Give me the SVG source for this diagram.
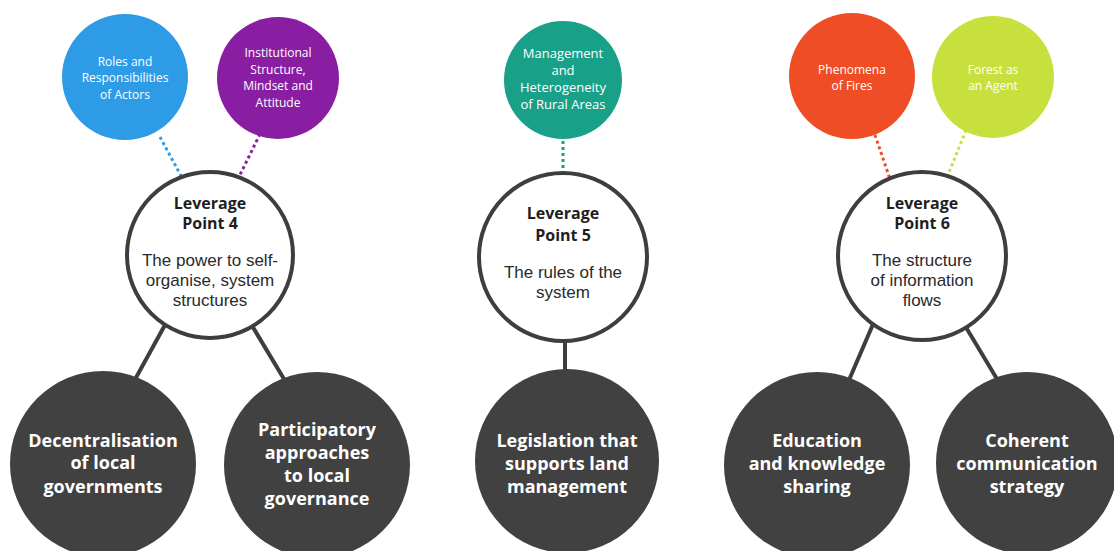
<svg xmlns="http://www.w3.org/2000/svg" width="1114" height="551" viewBox="0 0 1114 551">
<style>
.bg{fill:#ffffff}
.lp{fill:#ffffff;stroke:#3e3e3e;stroke-width:4}
.dk{fill:#414141}
.conn{stroke:#3e3e3e;stroke-width:4;fill:none}
.dot{stroke-width:3;stroke-dasharray:3 3;fill:none}
.t{font-family:"Open Sans","Liberation Sans",sans-serif;text-anchor:middle}
.top{fill:#ffffff;font-size:12px}
.tl{font-size:13px}
.lph{fill:#1e1e1e;font-size:16px;font-weight:bold}
.lpb{fill:#2a2a2a;font-size:17px;font-family:"Liberation Sans",Arial,sans-serif}
.dkt{fill:#ffffff;font-size:18px;font-weight:bold}
</style>
<rect class="bg" width="1114" height="551"/>
<g id="connectors">
<line class="dot" x1="160" y1="137" x2="186" y2="185" stroke="#2e9be6"/>
<line class="dot" x1="260" y1="134" x2="235" y2="185" stroke="#8a1ea3"/>
<line class="dot" x1="563" y1="135" x2="563" y2="185" stroke="#18a088"/>
<line class="dot" x1="875" y1="135" x2="892" y2="185" stroke="#e9502a"/>
<line class="dot" x1="966" y1="130" x2="944" y2="185" stroke="#c8e03e"/>
<line class="conn" x1="127" y1="394" x2="182" y2="294"/>
<line class="conn" x1="293" y1="394" x2="233" y2="294"/>
<line class="conn" x1="565" y1="320" x2="565" y2="390"/>
<line class="conn" x1="843" y1="394" x2="886" y2="294"/>
<line class="conn" x1="1006" y1="394" x2="946" y2="294"/>
</g>
<g id="roles">
<circle cx="125" cy="77" r="63" fill="#2e9be6"/>
<text class="t top" x="125" y="65.5">Roles and</text>
<text class="t top" x="125" y="82">Responsibilities</text>
<text class="t top" x="125" y="98.5">of Actors</text>
</g>
<g id="institutional">
<circle cx="278" cy="78" r="61" fill="#8a1ea3"/>
<text class="t top" x="278" y="57">Institutional</text>
<text class="t top" x="278" y="73.5">Structure,</text>
<text class="t top" x="278" y="90">Mindset and</text>
<text class="t top" x="278" y="106.5">Attitude</text>
</g>
<g id="management">
<circle cx="563" cy="80" r="59" fill="#18a088"/>
<text class="t top tl" x="563" y="57.5">Management</text>
<text class="t top tl" x="563" y="74.5">and</text>
<text class="t top tl" x="563" y="91.5">Heterogeneity</text>
<text class="t top tl" x="563" y="108.5">of Rural Areas</text>
</g>
<g id="phenomena">
<circle cx="852" cy="76" r="63" fill="#ee4d25"/>
<text class="t top" x="852" y="73.5">Phenomena</text>
<text class="t top" x="852" y="90">of Fires</text>
</g>
<g id="forest">
<circle cx="993" cy="77" r="61" fill="#c8e03e"/>
<text class="t top" x="993" y="73.5">Forest as</text>
<text class="t top" x="993" y="90">an Agent</text>
</g>
<g id="lp4">
<circle class="lp" cx="210" cy="255" r="83"/>
<text class="t lph" x="210" y="209">Leverage</text>
<text class="t lph" x="210" y="229">Point 4</text>
<text class="t lpb" x="210" y="266">The power to self-</text>
<text class="t lpb" x="210" y="286">organise, system</text>
<text class="t lpb" x="210" y="306">structures</text>
</g>
<g id="lp5">
<circle class="lp" cx="563" cy="257" r="84"/>
<text class="t lph" x="563" y="219">Leverage</text>
<text class="t lph" x="563" y="241">Point 5</text>
<text class="t lpb" x="563" y="278">The rules of the</text>
<text class="t lpb" x="563" y="298">system</text>
</g>
<g id="lp6">
<circle class="lp" cx="922" cy="256" r="84"/>
<text class="t lph" x="922" y="209">Leverage</text>
<text class="t lph" x="922" y="229">Point 6</text>
<text class="t lpb" x="922" y="266">The structure</text>
<text class="t lpb" x="922" y="286">of information</text>
<text class="t lpb" x="922" y="306">flows</text>
</g>
<g id="decentralisation">
<circle class="dk" cx="103" cy="464" r="93"/>
<text class="t dkt" x="103" y="446.5">Decentralisation</text>
<text class="t dkt" x="103" y="469">of local</text>
<text class="t dkt" x="103" y="492.5">governments</text>
</g>
<g id="participatory">
<circle class="dk" cx="317" cy="465" r="93"/>
<text class="t dkt" x="317" y="436">Participatory</text>
<text class="t dkt" x="317" y="458.5">approaches</text>
<text class="t dkt" x="317" y="481.5">to local</text>
<text class="t dkt" x="317" y="504.5">governance</text>
</g>
<g id="legislation">
<circle class="dk" cx="567" cy="461" r="92"/>
<text class="t dkt" x="567" y="446.5">Legislation that</text>
<text class="t dkt" x="567" y="470">supports land</text>
<text class="t dkt" x="567" y="493">management</text>
</g>
<g id="education">
<circle class="dk" cx="817" cy="465" r="93"/>
<text class="t dkt" x="817" y="446.5">Education</text>
<text class="t dkt" x="817" y="469.5">and knowledge</text>
<text class="t dkt" x="817" y="492.5">sharing</text>
</g>
<g id="coherent">
<circle class="dk" cx="1027" cy="463" r="91"/>
<text class="t dkt" x="1027" y="446.5">Coherent</text>
<text class="t dkt" x="1027" y="469.5">communication</text>
<text class="t dkt" x="1027" y="492.5">strategy</text>
</g>
</svg>
